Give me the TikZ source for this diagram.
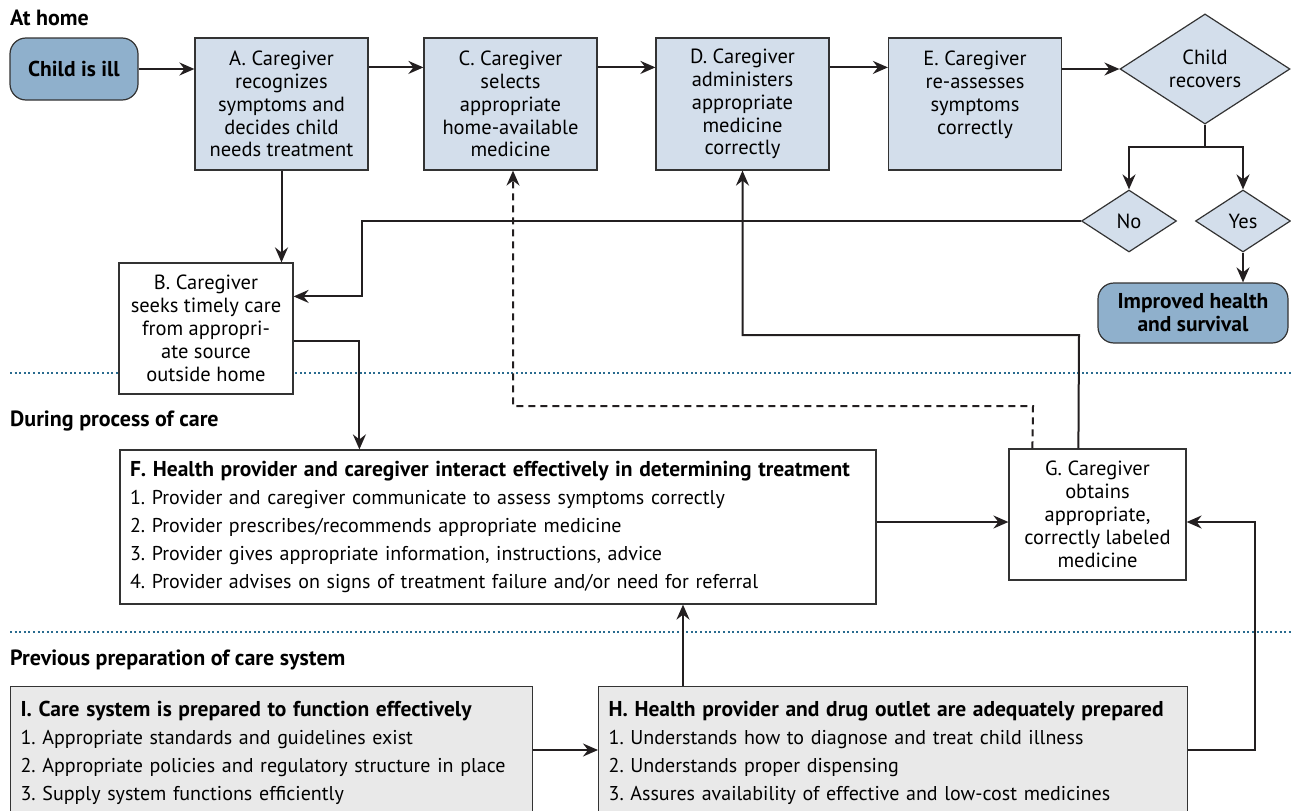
\documentclass[tikz,border=0pt]{standalone}
\usepackage{fontspec}
\setmainfont{PT Sans}
\usetikzlibrary{shapes.geometric,arrows.meta,calc}
\definecolor{lb}{HTML}{D3DEEB}
\definecolor{db}{HTML}{8FB0CC}
\definecolor{gb}{HTML}{E9E9E9}
\definecolor{bd}{HTML}{333333}
\definecolor{dotc}{HTML}{2A6B8F}
\definecolor{ln}{HTML}{231F20}
\newcommand\mttlfont{\fontsize{21.5}{28}\selectfont\bfseries}
\frenchspacing
\begin{document}
\begin{tikzpicture}[x=1pt,y=-1pt,
  boxfont/.style={font=\fontsize{20.5}{22.9}\selectfont},
  listfont/.style={font=\fontsize{20}{28}\selectfont},
  hdr/.style={font=\fontsize{22}{22}\selectfont\bfseries, anchor=west, inner sep=0},
  stepbox/.style={draw=bd, line width=1.2pt, fill=lb, minimum width=173, minimum height=132, align=center, inner sep=2pt, boxfont},
  wbox/.style={draw=bd, line width=1.2pt, fill=white, align=center, inner sep=2pt, boxfont},
  rbox/.style={draw=bd, line width=1.2pt, fill=db, rounded corners=16pt, align=center, inner sep=2pt, font=\fontsize{21.5}{23}\selectfont\bfseries},
  dia/.style={draw=bd, line width=1.2pt, fill=lb, diamond, inner sep=0pt, align=center, boxfont},
  lbox/.style={draw=bd, line width=1.2pt, align=left, anchor=north west, inner xsep=10pt, inner ysep=14.5pt, listfont},
  arr/.style={draw=ln, line width=2pt, -{Stealth[length=15pt,width=13pt,inset=5pt]}},
  plain/.style={draw=ln, line width=2pt},
  sep/.style={draw=dotc, line width=2pt, dash pattern=on 2pt off 2.6pt}
]
\useasboundingbox (0,0) rectangle (1291,811);
\clip (0,0) rectangle (1291,811);

% separators
\draw[sep] (10,373) -- (1291,373);
\draw[sep] (10,632) -- (1291,632);

% section labels
\node[hdr] (lhome) at (10,18) {At home};
\node[hdr] (lproc) at (10,421) {During process of care};
\node[hdr] (lprep) at (10,660) {Previous preparation of care system};

% top row
\node[rbox, minimum width=128, minimum height=62] (child) at (74,69) {Child is ill};
\node[stepbox] (A) at (281.5,104) {A. Caregiver\\recognizes\\symptoms and\\decides child\\needs treatment};
\node[stepbox] (C) at (510.5,104) {C. Caregiver\\selects\\appropriate\\home-available\\medicine};
\node[stepbox] (D) at (742.5,104) {D. Caregiver\\administers\\appropriate\\medicine\\correctly};
\node[stepbox] (E) at (975,104) {E. Caregiver\\re-assesses\\symptoms\\correctly\\\mbox{}};
\node[dia, minimum width=170, minimum height=80] (rec) at (1205,69) {Child\\recovers};
\node[dia, minimum width=95, minimum height=62] (no) at (1129,221) {No};
\node[dia, minimum width=95, minimum height=62] (yes) at (1243,221) {Yes};
\node[rbox, minimum width=190, minimum height=60] (imp) at (1193,313) {Improved health\\and survival};

% B
\node[wbox, minimum width=174, minimum height=131] (B) at (206,328.5) {B. Caregiver\\seeks timely care\\from appropri-\\ate source\\outside home};

% F and G
\node[draw=bd, line width=1.2pt, fill=white, minimum width=756, minimum height=154, text width=736, align=left, inner xsep=10pt, listfont] (F) at (498,527)
 {{\mttlfont F. Health provider and caregiver interact effectively in determining treatment}\\
  1. Provider and caregiver communicate to assess symptoms correctly\\
  2. Provider prescribes/recommends appropriate medicine\\
  3. Provider gives appropriate information, instructions, advice\\
  4. Provider advises on signs of treatment failure and/or need for referral};
\node[wbox, minimum width=177, minimum height=131] (G) at (1097.5,514.5) {G. Caregiver\\obtains\\appropriate,\\correctly labeled\\medicine};

% I and H
\node[lbox, fill=gb, minimum width=522, text width=502] (I) at (10,686)
 {{\mttlfont I. Care system is prepared to function effectively}\\
  1. Appropriate standards and guidelines exist\\
  2. Appropriate policies and regulatory structure in place\\
  3. Supply system functions efficiently};
\node[lbox, fill=gb, minimum width=589, text width=569] (H) at (598,686)
 {{\mttlfont H. Health provider and drug outlet are adequately prepared}\\
  1. Understands how to diagnose and treat child illness\\
  2. Understands proper dispensing\\
  3. Assures availability of effective and low-cost medicines};

% coordinates
\coordinate (split) at (1205,147);
\coordinate (gd) at ($(G.north west)+(24,0)$);
\coordinate (gs) at ($(G.north west)+(70,0)$);
\coordinate (hx) at ($(H.north west)+(85,0)$);

% connectors top
\draw[arr] (child.east) -- (child.east -| A.west);
\draw[arr] ($(A.north east)+(0,30)$) -- ($(C.north west)+(0,30)$);
\draw[arr] ($(C.north east)+(0,30)$) -- ($(D.north west)+(0,30)$);
\draw[arr] ($(D.north east)+(0,30)$) -- ($(E.north west)+(0,30)$);
\draw[arr] (rec.west -| E.east) -- (rec.west);
\draw[plain] (rec.south) -- (split);
\draw[arr] (split) -| (no.north);
\draw[arr] (split) -| (yes.north);
\draw[arr] (yes.south) -- (yes.south |- imp.north);
\draw[arr] (no.west) -- (362,221) |- ($(B.north east)+(0,34)$);
\draw[arr] (A.south) -- (A.south |- B.north);
\draw[arr] ($(B.north east)+(0,79)$) -| ($(F.north west)+(240,0)$);

% from G
\draw[arr] (gs) -- (1079,335) -| (D.south);
\draw[arr, dashed, dash pattern=on 7pt off 5pt] (gd) -- (1033,406) -| ($(C.south)+(2.5,0)$);

% F -> G, H -> F, I -> H, H -> G
\draw[arr] ($(F.east)+(0,-5)$) -- ($(G.west)+(0,7.5)$);
\draw[arr] (hx) -- (hx |- F.south);
\draw[arr] ($(I.north east)+(0,64)$) -- ($(H.north west)+(0,64)$);
\draw[arr] ($(H.north east)+(0,64)$) -- (1255,750) |- ($(G.east)+(0,7.5)$);
\end{tikzpicture}
\end{document}
